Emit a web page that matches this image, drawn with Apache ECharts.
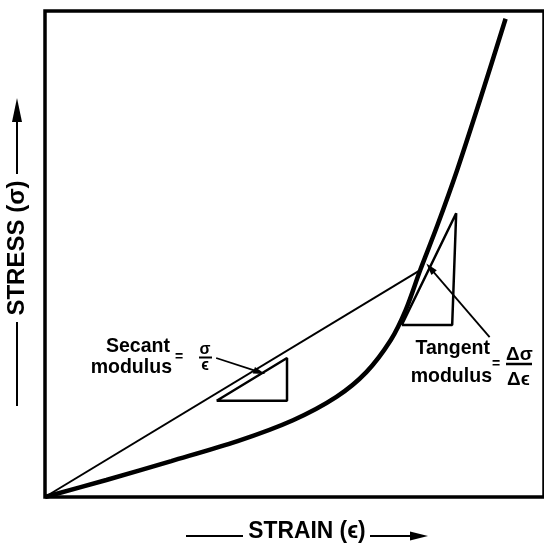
<!DOCTYPE html>
<html>
<head>
<meta charset="utf-8">
<script src="https://cdn.jsdelivr.net/npm/echarts@6/dist/echarts.min.js"></script>
<style>
  html, body { margin: 0; background: #fff; }
  #chart { width: 544px; height: 550px; }
</style>
</head>
<body>
<div id="chart"></div>
<script>
// stress-strain curve (arbitrary units, 0..100 on both axes)
const strain = [0, 12.3, 25.3, 38.6, 49.7, 58.4, 64.4, 69.3, 72.3, 75.2, 78.6, 82.6, 87.3, 92.3]
const stress = [0, 3.5, 7.4, 11.5, 15.8, 20.6, 25.7, 32.3, 38.5, 46.7, 55.8, 67.3, 82.1, 98.4]
const secantIdx = 9 // the point the secant goes to

// small slope triangles
const secantTriX = [34.4, 48.5, 48.5]
const secantTriY = [19.8, 19.8, 28.6]
const tangentTriX = [71.5, 81.6, 82.4]
const tangentTriY = [35.4, 35.4, 58.4]

// pointer arrows [tail, tip]
const secantArrow = [[34.3, 28.6], [43.0, 25.7]]
const tangentArrow = [[89.1, 32.9], [77.2, 47.1]]

const ink = '#000'
const fam = '"Liberation Sans", Arial, "DejaVu Sans", sans-serif'

function pairs(xs, ys, close) {
  let out = xs.map((x, i) => [x, ys[i]])
  if (close) out.push(out[0])
  return out
}

function arrowSeries(pts, curve) {
  return {
    type: 'line',
    data: pts,
    symbol: 'none',
    lineStyle: { opacity: 0 },
    markLine: {
      silent: true,
      animation: false,
      symbol: ['none', 'triangle'],
      symbolSize: [7, 12],
      label: { show: false },
      lineStyle: { color: ink, width: 1.8, type: 'solid', curveness: curve },
      data: [[{ coord: pts[0] }, { coord: pts[1] }]],
    },
  }
}

function txt(x, y, text, size, align, extra) {
  return Object.assign({
    type: 'text',
    x: x,
    y: y,
    scaleX: 0.93,
    style: {
      text: text,
      fill: ink,
      fontFamily: fam,
      fontWeight: 'bold',
      fontSize: size,
      align: align,
      verticalAlign: 'middle',
    },
  }, extra || {})
}

function seg(x1, y1, x2, y2, w) {
  return { type: 'line', shape: { x1, y1, x2, y2 }, style: { stroke: ink, lineWidth: w || 2 } }
}

let chart = echarts.init(document.getElementById('chart'))
chart.setOption({
  animation: false,
  backgroundColor: '#fff',
  grid: {
    left: 45, top: 11, width: 505, height: 486,
    show: true, borderColor: ink, borderWidth: 3.5,
  },
  xAxis: { type: 'value', min: 0, max: 100, show: false },
  yAxis: { type: 'value', min: 0, max: 100, show: false },
  series: [
    {
      type: 'line',
      data: pairs(strain, stress),
      smooth: 0.3,
      symbol: 'none',
      lineStyle: { color: ink, width: 4.5 },
      z: 4,
    },
    {
      type: 'line',
      data: [[0, 0], [strain[secantIdx], stress[secantIdx]]],
      symbol: 'none',
      lineStyle: { color: ink, width: 2 },
    },
    {
      type: 'line',
      data: pairs(secantTriX, secantTriY, true),
      symbol: 'none',
      lineStyle: { color: ink, width: 2.5 },
    },
    {
      type: 'line',
      data: pairs(tangentTriX, tangentTriY, true),
      symbol: 'none',
      lineStyle: { color: ink, width: 2.5 },
    },
    arrowSeries(secantArrow, 0.135),
    arrowSeries(tangentArrow, -0.13),
  ],
  graphic: [
    // y axis title with arrow
    txt(17, 248, 'STRESS (σ)', 24, 'center', { rotation: Math.PI / 2, scaleX: 1 }),
    seg(17, 406, 17, 322),
    seg(17, 174, 17, 118),
    { type: 'polygon', shape: { points: [[17, 98], [12, 122], [22, 122]] }, style: { fill: ink } },
    // x axis title with arrow
    txt(307, 531, 'STRAIN (ϵ)', 24, 'center', { scaleX: 0.95 }),
    seg(186, 536, 243, 536),
    seg(370, 536, 412, 536),
    { type: 'polygon', shape: { points: [[428, 536], [410, 531.5], [410, 540.5]] }, style: { fill: ink } },
    // secant label
    txt(170, 346, 'Secant', 21, 'right'),
    txt(172, 367, 'modulus', 21, 'right'),
    txt(179, 357, '=', 14, 'center', { scaleX: 1 }),
    txt(205, 350, 'σ', 16, 'center', { scaleX: 1 }),
    seg(199, 357.5, 212, 357.5, 2),
    txt(205, 366, 'ϵ', 16, 'center', { scaleX: 1 }),
    // tangent label
    txt(490, 348, 'Tangent', 21, 'right'),
    txt(492, 376, 'modulus', 21, 'right'),
    txt(496, 364, '=', 14, 'center', { scaleX: 1 }),
    txt(506, 355, 'Δσ', 19, 'left', { scaleX: 1 }),
    seg(506, 364, 532, 364, 2.5),
    txt(507, 380, 'Δϵ', 19, 'left', { scaleX: 1 }),
  ],
})
</script>
</body>
</html>
